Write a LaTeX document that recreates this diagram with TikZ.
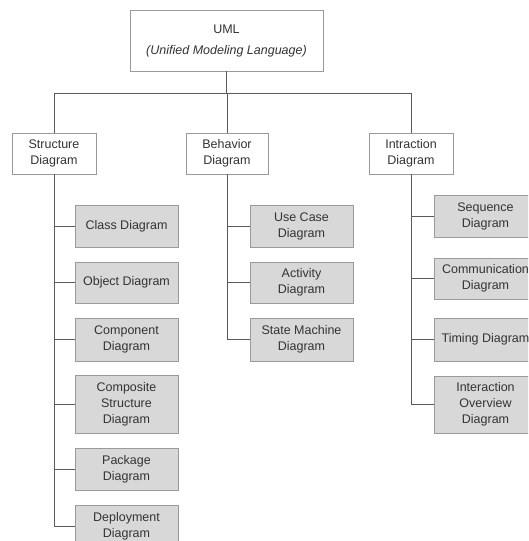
\documentclass[tikz,border=0pt]{standalone}
\usepackage{fontspec}
\setmainfont{Liberation Sans}
\definecolor{boxline}{HTML}{9A9A9A}
\definecolor{leaffill}{HTML}{D8D8D8}
\definecolor{wire}{HTML}{5A5A5A}
\definecolor{txt}{HTML}{333333}
\begin{document}
\begin{tikzpicture}[x=1pt,y=-1pt,
  base/.style={draw=boxline,line width=0.8pt,inner sep=0pt,align=center,text=txt,
    font=\fontsize{12.5}{16}\selectfont},
  topbox/.style={base,fill=white},
  leaf/.style={base,fill=leaffill,minimum width=103pt},
  wireline/.style={draw=wire,line width=0.9pt}]
\clip (0,0) rectangle (528,541);
\fill[white] (0,0) rectangle (528,541);
% root
\node[topbox,minimum width=193pt,minimum height=61pt] (U) at (226.5,40.5)
  {UML\\[5pt]\textit{(Unified Modeling Language)}};
% categories
\node[topbox,minimum width=84pt,minimum height=41pt] (S) at (54,153.5) {Structure\\Diagram};
\node[topbox,minimum width=82pt,minimum height=41pt] (B) at (227,153.5) {Behavior\\Diagram};
\node[topbox,minimum width=84pt,minimum height=41pt] (I) at (411,153.5) {Intraction\\Diagram};
% structure leaves
\node[leaf,minimum height=42pt] (S1) at (126.5,226) {Class Diagram};
\node[leaf,minimum height=41pt] (S2) at (126.5,282.5) {Object Diagram};
\node[leaf,minimum height=43pt] (S3) at (126.5,339.5) {Component\\Diagram};
\node[leaf,minimum height=58pt] (S4) at (126.5,404) {Composite\\Structure\\Diagram};
\node[leaf,minimum height=42pt] (S5) at (126.5,469) {Package\\Diagram};
\node[leaf,minimum height=42pt] (S6) at (126.5,526) {Deployment\\Diagram};
% behavior leaves
\node[leaf,minimum height=42pt] (B1) at (301.5,226) {Use Case\\Diagram};
\node[leaf,minimum height=41pt] (B2) at (301.5,282.5) {Activity\\Diagram};
\node[leaf,minimum height=43pt] (B3) at (301.5,339.5) {State Machine\\Diagram};
% interaction leaves
\node[leaf,minimum height=42pt] (I1) at (485.5,216) {Sequence\\Diagram};
\node[leaf,minimum height=41pt] (I2) at (485.5,278.5) {Communication\\Diagram};
\node[leaf,minimum height=43pt] (I3) at (485.5,339.5) {Timing Diagram};
\node[leaf,minimum height=57pt] (I4) at (485.5,404.5) {Interaction\\Overview\\Diagram};
% bus
\coordinate (bus) at (226.5,93);
\draw[wireline] (U.south) -- (bus);
\draw[wireline] (S.north) -- (S.north |- bus) -- (I.north |- bus) -- (I.north);
\draw[wireline] (B.north |- bus) -- (B.north);
% structure trunk
\draw[wireline] (S.south) -- (S.south |- S6.west) -- (S6.west);
\foreach \n in {S1,S2,S3,S4,S5} \draw[wireline] (S.south |- \n.west) -- (\n.west);
% behavior trunk
\draw[wireline] (B.south) -- (B.south |- B3.west) -- (B3.west);
\foreach \n in {B1,B2} \draw[wireline] (B.south |- \n.west) -- (\n.west);
% interaction trunk
\draw[wireline] (I.south) -- (I.south |- I4.west) -- (I4.west);
\foreach \n in {I1,I2,I3} \draw[wireline] (I.south |- \n.west) -- (\n.west);
\end{tikzpicture}
\end{document}
